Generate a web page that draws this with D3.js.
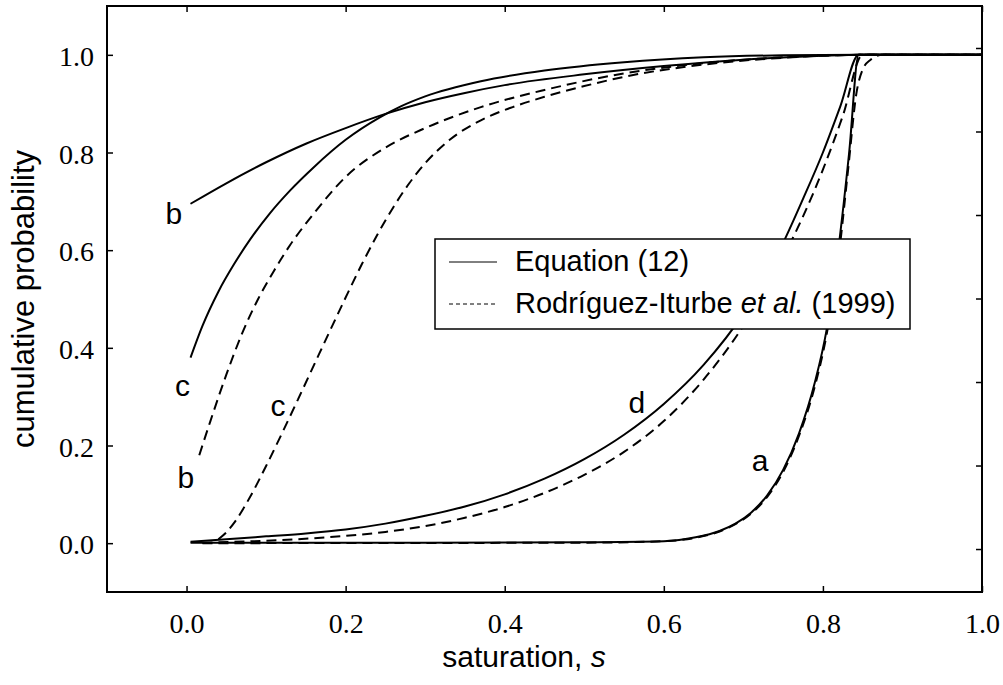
<!DOCTYPE html>
<html>
<head>
<meta charset="utf-8">
<script src="https://cdn.jsdelivr.net/npm/d3@7"></script>
<style>
  body { margin: 0; background: #fff; }
  svg { display: block; }
  .tick text { font-family: "Liberation Serif", "Times New Roman", serif; font-size: 28px; fill: #000; }
  .lbl { font-family: "Liberation Sans", Arial, sans-serif; fill: #000; }
</style>
</head>
<body>
<script>
// Curves: [saturation s, cumulative probability]
// Equation (12), solid
const eqA = [[0.005, 0.001], [0.3, 0.001], [0.5, 0.002], [0.6, 0.004], [0.64, 0.012], [0.67, 0.025], [0.69, 0.04],
  [0.71, 0.063], [0.73, 0.098], [0.75, 0.15], [0.77, 0.225], [0.79, 0.33], [0.805, 0.44], [0.82, 0.61],
  [0.833, 0.80], [0.845, 1.0], [1.0, 1.0]];
const eqB = [[0.005, 0.695], [0.05, 0.737], [0.1, 0.78], [0.15, 0.818], [0.2, 0.85], [0.25, 0.879], [0.3, 0.903],
  [0.35, 0.922], [0.4, 0.938], [0.5, 0.96], [0.6, 0.977], [0.7, 0.99], [0.8, 0.998], [0.85, 1.0], [1.0, 1.0]];
const eqC = [[0.005, 0.38], [0.02, 0.445], [0.04, 0.515], [0.06, 0.572], [0.08, 0.622], [0.105, 0.676],
  [0.13, 0.722], [0.16, 0.77], [0.2, 0.826], [0.243, 0.872], [0.27, 0.895], [0.3, 0.915], [0.37, 0.946],
  [0.45, 0.968], [0.55, 0.985], [0.65, 0.995], [0.75, 0.999], [0.85, 1.0], [1.0, 1.0]];
const eqD = [[0.005, 0.003], [0.05, 0.008], [0.1, 0.014], [0.15, 0.02], [0.2, 0.028], [0.25, 0.04], [0.3, 0.056],
  [0.35, 0.075], [0.4, 0.1], [0.45, 0.132], [0.5, 0.172], [0.55, 0.222], [0.6, 0.285], [0.65, 0.365],
  [0.7, 0.47], [0.75, 0.615], [0.775, 0.705], [0.8, 0.8], [0.822, 0.895], [0.845, 1.0], [1.0, 1.0]];
// Rodriguez-Iturbe et al. (1999), dashed
const riA = [[0.02, 0.0], [0.5, 0.001], [0.6, 0.004], [0.64, 0.011], [0.67, 0.024], [0.69, 0.039], [0.71, 0.061],
  [0.73, 0.095], [0.75, 0.146], [0.77, 0.22], [0.79, 0.322], [0.805, 0.43], [0.82, 0.59], [0.832, 0.77],
  [0.842, 0.92], [0.85, 0.97], [0.86, 0.99], [0.875, 1.0], [1.0, 1.0]];
const riB = [[0.016, 0.18], [0.03, 0.25], [0.05, 0.345], [0.07, 0.43], [0.09, 0.50], [0.11, 0.558], [0.13, 0.61],
  [0.16, 0.675], [0.2, 0.75], [0.25, 0.81], [0.3, 0.85], [0.37, 0.893], [0.45, 0.928], [0.55, 0.962],
  [0.65, 0.983], [0.75, 0.995], [0.85, 1.0], [1.0, 1.0]];
const riC = [[0.04, 0.008], [0.05, 0.022], [0.06, 0.042], [0.08, 0.095], [0.1, 0.158], [0.12, 0.225],
  [0.14, 0.294], [0.16, 0.364], [0.18, 0.434], [0.2, 0.503], [0.22, 0.57], [0.24, 0.632], [0.26, 0.688],
  [0.28, 0.737], [0.3, 0.778], [0.33, 0.825], [0.37, 0.866], [0.41, 0.893], [0.45, 0.914], [0.5, 0.936],
  [0.55, 0.955], [0.65, 0.98], [0.75, 0.994], [0.85, 1.0], [1.0, 1.0]];
const riD = [[0.02, 0.001], [0.1, 0.005], [0.2, 0.015], [0.25, 0.023], [0.3, 0.035], [0.35, 0.052], [0.4, 0.074],
  [0.45, 0.103], [0.5, 0.14], [0.55, 0.187], [0.6, 0.25], [0.65, 0.335], [0.7, 0.445], [0.75, 0.585],
  [0.8, 0.765], [0.825, 0.875], [0.85, 1.0], [1.0, 1.0]];

// Curve letters: [s, P, text]
const curveLabels = [[-0.016, 0.676, "b"], [-0.005, 0.324, "c"], [0.115, 0.283, "c"], [-0.001, 0.135, "b"],
  [0.566, 0.289, "d"], [0.721, 0.170, "a"]];

const xTicks = [0, 0.2, 0.4, 0.6, 0.8, 1.0];
const yTicks = [0, 0.2, 0.4, 0.6, 0.8, 1.0];
const rightTicks = [-0.012, 0.159, 0.33, 0.501, 0.672, 0.843, 1.014];
const legendItems = ["Equation (12)", "Rodríguez-Iturbe"];

const width = 1003, height = 685;
const margin = { top: 6, right: 21, bottom: 93, left: 107 };

const x = d3.scaleLinear().domain([-0.1, 1.0]).range([margin.left, width - margin.right]);
const y = d3.scaleLinear().domain([-0.1, 1.1]).range([height - margin.bottom, margin.top]);

const svg = d3.select("body").append("svg").attr("width", width).attr("height", height);

const line = d3.line().x(d => x(d[0])).y(d => y(d[1])).curve(d3.curveMonotoneX);

// curves
const solid = [eqA, eqB, eqC, eqD];
const dashed = [riA, riB, riC, riD];
svg.append("g").selectAll("path").data(solid).join("path")
  .attr("d", line).attr("fill", "none").attr("stroke", "#000").attr("stroke-width", 2);
svg.append("g").selectAll("path").data(dashed).join("path")
  .attr("d", line).attr("fill", "none").attr("stroke", "#000").attr("stroke-width", 2)
  .attr("stroke-dasharray", "10,6");

// axes (ticks inside)
svg.append("g").attr("transform", `translate(0,${y(-0.1)})`)
  .call(d3.axisBottom(x).tickValues(xTicks).tickSize(-6).tickPadding(21).tickFormat(d3.format(".1f")));
const left = svg.append("g").attr("transform", `translate(${x(-0.1)},0)`)
  .call(d3.axisLeft(y).tickValues(yTicks).tickSize(-6).tickPadding(13).tickFormat(d3.format(".1f")));
svg.append("g").attr("transform", `translate(0,${y(1.1)})`)
  .call(d3.axisTop(x).tickValues(xTicks).tickSize(-6).tickFormat(""));
svg.append("g").attr("transform", `translate(${x(1.0)},0)`)
  .call(d3.axisRight(y).tickValues(rightTicks).tickSize(-6).tickFormat(""));
svg.selectAll(".domain").remove();
svg.selectAll(".tick line").attr("stroke", "#000").attr("stroke-width", 1.5);
left.selectAll(".tick text").attr("dy", "0.38em");

// frame
svg.append("rect")
  .attr("x", x(-0.1)).attr("y", y(1.1))
  .attr("width", x(1.0) - x(-0.1)).attr("height", y(-0.1) - y(1.1))
  .attr("fill", "none").attr("stroke", "#000").attr("stroke-width", 2);

// curve letters
svg.append("g").selectAll("text").data(curveLabels).join("text")
  .attr("class", "lbl")
  .attr("x", d => x(d[0])).attr("y", d => y(d[1]))
  .attr("text-anchor", "middle").attr("dy", "0.36em")
  .attr("font-size", 30)
  .text(d => d[2]);

// legend
const lg = svg.append("g").attr("transform", "translate(435,239)");
lg.append("rect").attr("width", 475).attr("height", 90)
  .attr("fill", "#fff").attr("stroke", "#000").attr("stroke-width", 1.5);
const rows = lg.selectAll("g").data(legendItems).join("g")
  .attr("transform", (d, i) => `translate(0,${23 + i * 42})`);
rows.append("line").attr("x1", 14).attr("x2", 62)
  .attr("stroke", "#000").attr("stroke-width", 1)
  .attr("stroke-dasharray", (d, i) => i ? "4,3" : null);
const txt = rows.append("text").attr("class", "lbl").attr("x", 80).attr("y", 9)
  .attr("font-size", 29);
txt.append("tspan").text(d => d);
txt.filter((d, i) => i === 1).append("tspan").attr("font-style", "italic").text(" et al.");
txt.filter((d, i) => i === 1).append("tspan").text(" (1999)");

// axis titles
svg.append("text").attr("class", "lbl")
  .attr("x", 524).attr("y", 667)
  .attr("text-anchor", "middle").attr("font-size", 30)
  .text("saturation, ")
  .append("tspan").attr("font-style", "italic").text("s");
svg.append("text").attr("class", "lbl")
  .attr("transform", `translate(34,${(y(-0.1) + y(1.1)) / 2}) rotate(-90)`)
  .attr("text-anchor", "middle").attr("font-size", 31)
  .text("cumulative probability");
</script>
</body>
</html>
